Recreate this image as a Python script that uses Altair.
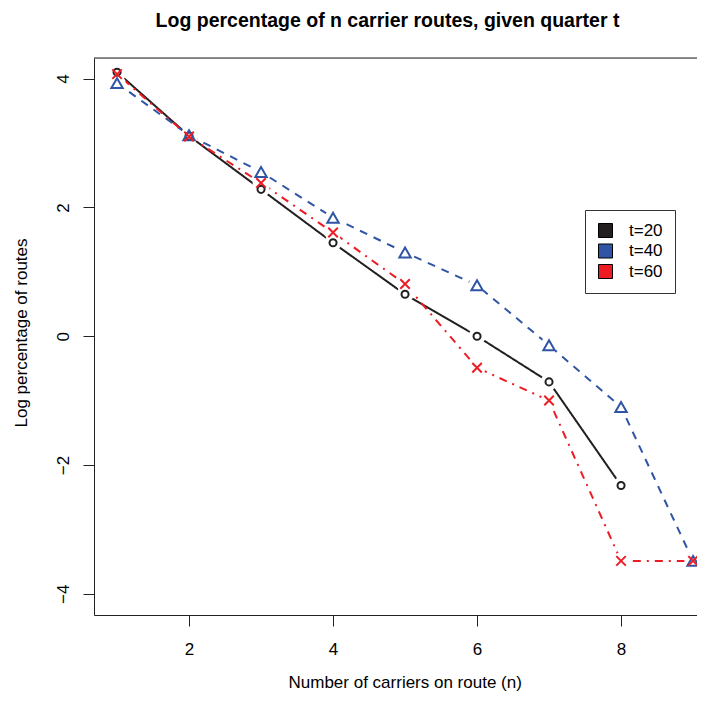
import altair as alt
import pandas as pd

# ---- data ----
n_carriers = [1, 2, 3, 4, 5, 6, 7, 8, 9]
t20 = [4.10, 3.11, 2.28, 1.45, 0.65, 0.00, -0.71, -2.32]
t40 = [3.93, 3.12, 2.55, 1.84, 1.30, 0.79, -0.14, -1.10, -3.49]
t60 = [4.07, 3.10, 2.38, 1.61, 0.81, -0.49, -1.00, -3.49, -3.49]
series_names = ["t=20", "t=40", "t=60"]
series_values = [t20, t40, t60]
series_colors = ["#231f20", "#2f55a4", "#ed1c24"]
x_ticks = [2, 4, 6, 8]
y_ticks = [-4, -2, 0, 2, 4]

rows = []
for name, vals in zip(series_names, series_values):
    for n, v in zip(n_carriers, vals):
        rows.append({"n": n, "logpct": v, "series": name})
df = pd.DataFrame(rows)

W, H = 603, 557
FONT = "Liberation Sans"
AX = "#222222"

x_enc = alt.X(
    "n:Q",
    scale=alt.Scale(domain=[0.68, 0.68 + W / 72.0], nice=False, zero=False),
    axis=alt.Axis(
        values=x_ticks, grid=False, title="Number of carriers on route (n)",
        tickSize=11, tickColor=AX, domainColor=AX, labelColor="black",
        labelFont=FONT, labelFontSize=17, labelBaseline="alphabetic", labelPadding=28,
        labelFlush=False,
        titleFont=FONT, titleFontSize=17, titleFontWeight="normal", titleColor="black",
        titleX=310.7, titleY=72, titleBaseline="alphabetic", titleAlign="center",
    ),
)
y_enc = alt.Y(
    "logpct:Q",
    scale=alt.Scale(domain=[-4.33, 4.32], nice=False, zero=False),
    axis=alt.Axis(
        values=y_ticks, grid=False, title="Log percentage of routes",
        tickSize=11, tickColor=AX, domainColor=AX, labelColor="black",
        labelFont=FONT, labelFontSize=17, labelAngle=270, labelAlign="center",
        labelBaseline="alphabetic", labelPadding=15, labelFlush=False,
        titleFont=FONT, titleFontSize=17, titleFontWeight="normal", titleColor="black",
        titleAngle=270, titleX=-68, titleY=274.5, titleBaseline="alphabetic",
        titleAlign="center",
    ),
)

base = alt.Chart(df)

dashes = [[1, 0], [8, 7], [2, 6, 8, 6]]
shapes = ["circle", "triangle-up", "M-1,-1L1,1M-1,1L1,-1"]
sizes = [50, 130, 90]

line_layers = []
marker_layers = []
for name, col, dash, shp, sz in zip(series_names, series_colors, dashes, shapes, sizes):
    sub = base.transform_filter(alt.datum.series == name)
    line_layers.append(
        sub.mark_line(color=col, strokeWidth=2, strokeDash=dash).encode(x=x_enc, y=y_enc)
    )
    marker_layers.append(
        sub.mark_point(shape=shp, size=sz, filled=False, color=col, strokeWidth=2, opacity=1)
        .encode(x=x_enc, y=y_enc)
    )

# white discs so lines stop short of the symbols (type="b" look)
masks = base.mark_circle(color="white", size=289, opacity=1).encode(x=x_enc, y=y_enc)

# invisible squares that carry the legend
legend_layer = base.mark_square(filled=True, opacity=0).encode(
    x=x_enc, y=y_enc,
    color=alt.Color(
        "series:N",
        scale=alt.Scale(domain=series_names, range=series_colors),
        legend=alt.Legend(
            title=None, orient="none", legendX=491, legendY=152, direction="vertical",
            symbolType="square", symbolSize=196, symbolStrokeColor="black",
            symbolStrokeWidth=1, symbolOpacity=1,
            labelFont=FONT, labelFontSize=17, labelColor="black", labelOffset=15,
            padding=12, rowPadding=1.5, strokeColor="#333333", fillColor="white",
        ),
    ),
)

top_frame = alt.Chart(pd.DataFrame({"k": [0]})).mark_rule(color=AX, strokeWidth=1).encode(
    x=alt.value(0), x2=alt.value(W), y=alt.value(0)
)

chart = alt.layer(*line_layers, masks, *marker_layers, legend_layer, top_frame).properties(
    width=W,
    height=H,
    autosize=alt.AutoSizeParams(type="none"),
    padding={"left": 86, "top": 50, "right": 0, "bottom": 78},
    title=alt.TitleParams(
        "Log percentage of n carrier routes, given quarter t",
        font=FONT, fontSize=19.5, fontWeight="bold", color="black",
        anchor="middle", frame="group", offset=35, baseline="alphabetic", dx=-8, dy=24,
    ),
).configure_view(stroke=None).configure(background="white")

chart.save("out.html", embed_options={"renderer": "svg", "actions": False})
